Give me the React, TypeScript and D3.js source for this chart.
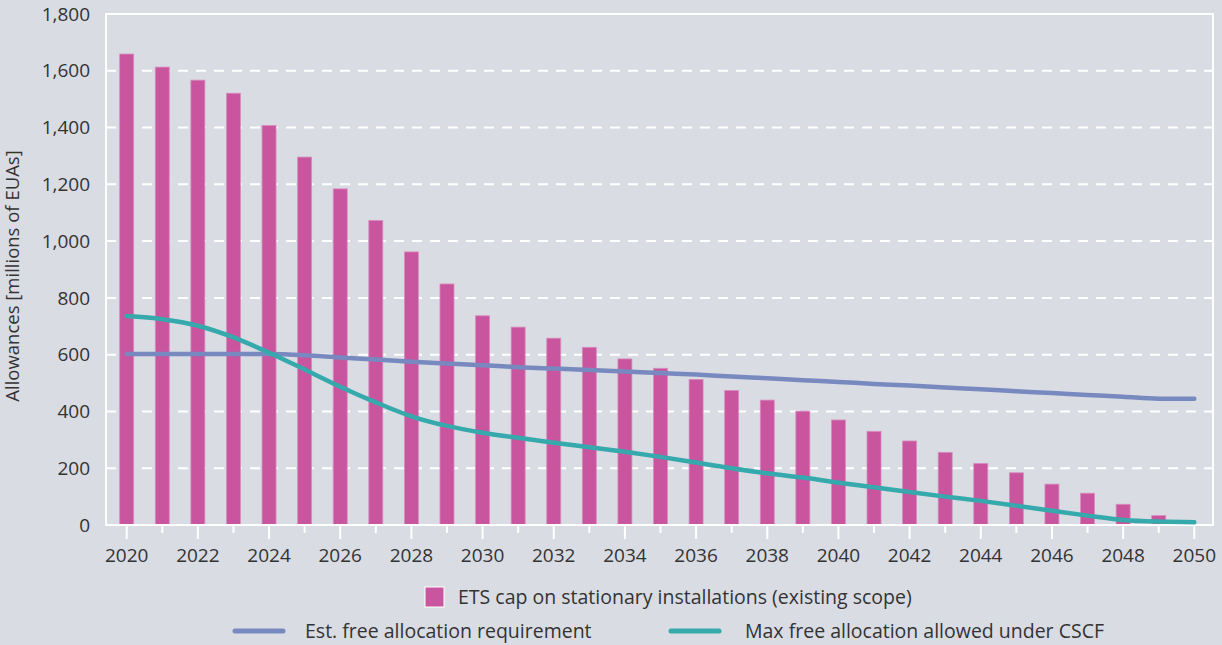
import React, { useEffect, useRef } from 'react';
import * as d3 from 'd3';

// years on the x axis
const years = [
  2020, 2021, 2022, 2023, 2024, 2025, 2026, 2027, 2028, 2029, 2030,
  2031, 2032, 2033, 2034, 2035, 2036, 2037, 2038, 2039, 2040,
  2041, 2042, 2043, 2044, 2045, 2046, 2047, 2048, 2049, 2050
];

// ETS cap on stationary installations (bars)
const capValues = [
  1659, 1613, 1567, 1521, 1407, 1296, 1184, 1073, 962, 849, 737,
  697, 658, 626, 585, 552, 513, 474, 440, 401, 370,
  330, 296, 256, 217, 184, 144, 112, 73, 33, 0
];

// Est. free allocation requirement
const freeReq = [
  602, 602, 602, 602, 602, 598, 590, 583, 575, 569, 563,
  556, 551, 546, 541, 535, 530, 523, 517, 510, 504,
  497, 491, 484, 478, 471, 465, 458, 452, 445, 445
];

// Max free allocation allowed under CSCF
const maxFree = [
  736, 725, 702, 661, 607, 548, 487, 432, 383, 349, 325,
  307, 290, 274, 258, 240, 220, 200, 182, 167, 149,
  133, 116, 100, 85, 68, 50, 33, 18, 12, 10
];

const yTicks = [0, 200, 400, 600, 800, 1000, 1200, 1400, 1600, 1800];

const W = 1222;
const H = 645;
const BG = '#d9dce3';
const PINK = '#c9559e';
const BLUE = '#7889bf';
const TEAL = '#35a9ab';
const TEXT = '#333333';
const FONT = "'Open Sans', sans-serif";

const App = () => {
  const ref = useRef<SVGSVGElement>(null);

  useEffect(() => {
    document.body.style.margin = '0';
    const svg = d3.select(ref.current);
    svg.selectAll('*').remove();

    const frame = { left: 106, right: 1213, top: 14, bottom: 525 };

    const x = d3.scaleLinear().domain([2020, 2050]).range([126.7, 1194.3]);
    const y = d3.scaleLinear().domain([0, 1800]).range([frame.bottom, frame.top]);
    const barW = 14;

    svg.append('rect').attr('width', W).attr('height', H).attr('fill', BG);

    // dashed grid
    svg.append('g')
      .selectAll('line')
      .data(yTicks.filter((t) => t > 0 && t < 1800))
      .enter()
      .append('line')
      .attr('x1', frame.left)
      .attr('x2', frame.right)
      .attr('y1', (d) => y(d))
      .attr('y2', (d) => y(d))
      .attr('stroke', '#ffffff')
      .attr('stroke-width', 2)
      .attr('stroke-dasharray', '10,8');

    // bars
    svg.append('g')
      .selectAll('rect')
      .data(years.map((yr, i) => ({ yr, v: capValues[i] })).filter((d) => d.v > 0))
      .enter()
      .append('rect')
      .attr('x', (d) => x(d.yr) - barW / 2)
      .attr('y', (d) => y(d.v))
      .attr('width', barW)
      .attr('height', (d) => frame.bottom - y(d.v))
      .attr('fill', PINK)
      .attr('stroke', '#d88dbf')
      .attr('stroke-width', 0.8);

    // frame
    svg.append('rect')
      .attr('x', frame.left)
      .attr('y', frame.top)
      .attr('width', frame.right - frame.left)
      .attr('height', frame.bottom - frame.top)
      .attr('fill', 'none')
      .attr('stroke', '#ffffff')
      .attr('stroke-width', 2);

    // lines
    const line = d3.line<number>()
      .x((_, i) => x(years[i]))
      .y((d) => y(d))
      .curve(d3.curveMonotoneX);

    svg.append('path')
      .attr('d', line(freeReq))
      .attr('fill', 'none')
      .attr('stroke', BLUE)
      .attr('stroke-width', 4.5)
      .attr('stroke-linecap', 'round');

    svg.append('path')
      .attr('d', line(maxFree))
      .attr('fill', 'none')
      .attr('stroke', TEAL)
      .attr('stroke-width', 4.5)
      .attr('stroke-linecap', 'round');

    // x ticks
    svg.append('g')
      .selectAll('line')
      .data(years)
      .enter()
      .append('line')
      .attr('x1', (d) => x(d))
      .attr('x2', (d) => x(d))
      .attr('y1', frame.bottom)
      .attr('y2', (d) => (d % 2 === 0 ? 539 : 533))
      .attr('stroke', '#ffffff')
      .attr('stroke-width', 2);

    svg.append('g')
      .selectAll('text')
      .data(years.filter((d) => d % 2 === 0))
      .enter()
      .append('text')
      .attr('x', (d) => x(d))
      .attr('y', 562)
      .attr('text-anchor', 'middle')
      .attr('font-family', FONT)
      .attr('font-size', 19)
      .attr('fill', TEXT)
      .text((d) => String(d));

    // y tick labels
    svg.append('g')
      .selectAll('text')
      .data(yTicks)
      .enter()
      .append('text')
      .attr('x', 90)
      .attr('y', (d) => y(d))
      .attr('dy', '0.35em')
      .attr('text-anchor', 'end')
      .attr('font-family', FONT)
      .attr('font-size', 19)
      .attr('fill', TEXT)
      .text((d) => d3.format(',')(d));

    // y title
    svg.append('text')
      .attr('transform', `translate(19,276) rotate(-90)`)
      .attr('text-anchor', 'middle')
      .attr('font-family', FONT)
      .attr('font-size', 18.5)
      .attr('fill', TEXT)
      .text('Allowances [millions of EUAs]');

    // legend
    const lg = svg.append('g').attr('font-family', FONT).attr('font-size', 19.5).attr('fill', TEXT);
    lg.append('rect')
      .attr('x', 425).attr('y', 587).attr('width', 19).attr('height', 20)
      .attr('fill', PINK).attr('stroke', '#ffffff').attr('stroke-width', 1);
    lg.append('text').attr('x', 458).attr('y', 604).text('ETS cap on stationary installations (existing scope)');

    lg.append('line')
      .attr('x1', 235).attr('x2', 283).attr('y1', 631).attr('y2', 631)
      .attr('stroke', BLUE).attr('stroke-width', 5).attr('stroke-linecap', 'round');
    lg.append('text').attr('x', 305).attr('y', 638).text('Est. free allocation requirement');

    lg.append('line')
      .attr('x1', 671).attr('x2', 719).attr('y1', 631).attr('y2', 631)
      .attr('stroke', TEAL).attr('stroke-width', 5).attr('stroke-linecap', 'round');
    lg.append('text').attr('x', 745).attr('y', 638).text('Max free allocation allowed under CSCF');
  }, []);

  return (
    <div style={{ width: W, height: H }}>
      <svg ref={ref} width={W} height={H} style={{ display: 'block' }} />
    </div>
  );
};

export default App;
